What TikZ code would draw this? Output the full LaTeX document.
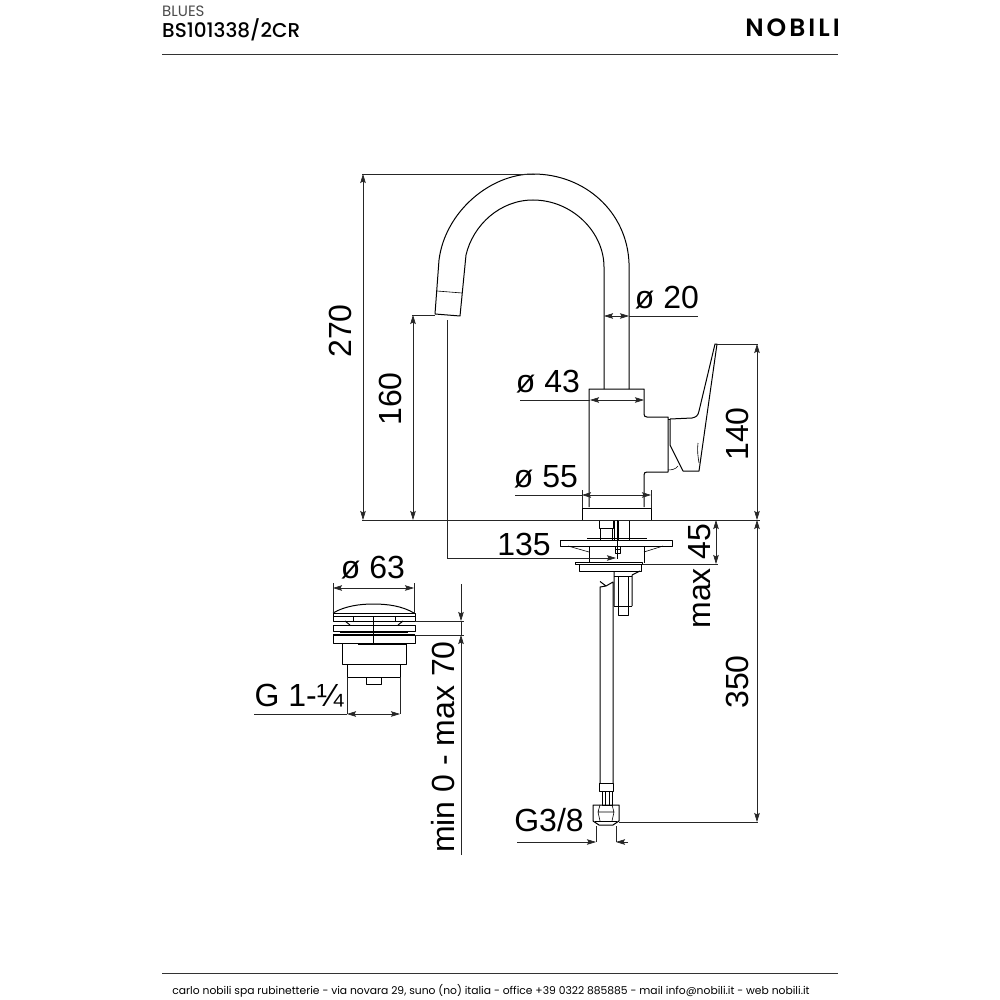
\documentclass[tikz,border=0pt]{standalone}
\usepackage{fontspec}
\setmainfont{Liberation Sans}
\newfontfamily\headfont{Poppins}
\newfontfamily\codefont{Poppins Medium}
\newfontfamily\brandfont[LetterSpace=12]{Poppins SemiBold}
\usetikzlibrary{arrows.meta}
\begin{document}
\begin{tikzpicture}[x=1pt,y=-1pt,line join=round,
            part/.style = {draw=black,line width=1pt},
            thin part/.style = {draw=black,line width=0.6pt},
            rule/.style = {draw=black!80,line width=0.8pt},
            dim/.style = {draw=black!85,line width=0.6pt},
            tip/.style = {-{Stealth[length=9pt,width=5.5pt,inset=1.5pt]}},
            both tips/.style = {{Stealth[length=9pt,width=5.5pt,inset=1.5pt]}-{Stealth[length=9pt,width=5.5pt,inset=1.5pt]}},
            size/.style = {font=\fontsize{32}{32}\selectfont,inner sep=0pt},
            upsize/.style = {size,rotate=90}]
        
        \useasboundingbox (0,0) rectangle (1000,1000);
        \fill[white] (0,0) rectangle (1000,1000);
        
        % Header
        \node[anchor=west,inner sep=0pt,text=black!70,font=\headfont\fontsize{15}{15}\selectfont] (series) at (162,11) {BLUES};
        \node[anchor=west,inner sep=0pt,font=\codefont\fontsize{20}{21}\selectfont] (code) at (162,29.5) {BS101338/2CR};
        \node[anchor=east,inner sep=0pt,font=\brandfont\fontsize{25}{25}\selectfont] (brand) at (840,28) {NOBILI};
        \draw[rule] (162,54) -- (838,54);
        
        % Footer
        \draw[rule] (162,973) -- (838,973);
        \node[inner sep=0pt,font=\headfont\fontsize{10.75}{11}\selectfont] (address) at (491,991) {carlo nobili spa rubinetterie - via novara 29, suno (no) italia - office +39 0322 885885 - mail info@nobili.it - web nobili.it};
        
        % Spout
        \draw[part] (629,389) -- (629,263) .. controls (627,212) and (585,174) .. (533,174)
            .. controls (490,174) and (445,212) .. (439,260) -- (435,314) -- (460,316) -- (466,255)
            .. controls (473,225) and (500,200) .. (533,200)
            .. controls (572,200) and (604,232) .. (604,267) -- (604,389);
        \draw[thin part] (437,291) -- (462,293);
        
        % Body
        \draw[part] (589,507) -- (589,389) -- (644,389) -- (644,414) .. controls (644,416) and (645,417) .. (647,417) -- (668,417)
            -- (668,472) -- (647,472) .. controls (645,472) and (644,473) .. (644,475) -- (644,507);
        \draw[part] (582,508) rectangle (651,520);
        
        % Handle
        \draw[part] (670,419) -- (692,418) .. controls (696,417) and (698,416) .. (699,411) -- (715,344) -- (717,344)
            -- (699,471) -- (683,471) -- (670,445) -- (670,419);
        \draw[thin part] (668,419) -- (670,419);
        \draw[thin part] (668,470) .. controls (672,470) and (676,469) .. (678,466);
        \draw[thin part] (698,443) .. controls (697,450) and (698,457) .. (699,463);
        
        % Under the deck
        \draw[thin part] (599,520) -- (599,528) -- (613,528) -- (613,520);
        \draw[thin part] (600,528) -- (600,540) (612,528) -- (612,540);
        \draw[thin part] (614,520) -- (614,540) (618,520) -- (618,540) (629,520) -- (629,540);
        \draw[thin part] (587,538) -- (647,538);
        \draw[part] (560,540) rectangle (672,546);
        \draw[part] (589,546) -- (589,563) (644,546) -- (644,563);
        \draw[thin part] (568,546) -- (589,552) (644,552) -- (663,546);
        \draw[thin part] (615,546) rectangle (620,553) (615,549.5) -- (620,549.5);
        \draw[part] (575,562) -- (642,562) -- (642,564) -- (575,564) -- cycle;
        \draw[part] (579,564) -- (579,571) -- (641,571) -- (641,564);
        \draw[part] (614,571) -- (614,606) (632,575) -- (632,606) (632,575) -- (640,571);
        \draw[thin part] (618,576) -- (618,606) (628,576) -- (628,606) (614,576) -- (632,576);
        \draw[part] (614,606) -- (632,606);
        \draw[part] (618,606) -- (618,615) -- (628,615) -- (628,606);
        
        % Hose
        \draw[part] (600,783) -- (600,587) -- (606,586) -- (600,581.5) (613,783) -- (613,582) -- (606,586);
        \draw[part] (599,783) rectangle (613,791);
        \draw[thin part] (602,791) rectangle (612,805) (605,791) -- (605,805) (609,791) -- (609,805);
        \draw[part] (593,805) -- (619,805) -- (619,821) -- (613,825) -- (599,825) -- (593,821) -- cycle;
        \draw[thin part] (600,805) -- (598,812) -- (600,821) (612,805) -- (614,812) -- (612,821) (598,812) -- (614,812);
        \draw[part] (595,821) -- (617,821);
        
        % Waste
        \draw[part] (333,613) .. controls (345,606) and (360,604) .. (373,604) .. controls (388,604) and (402,606) .. (414,613);
        \draw[part] (333,613) -- (333,621) -- (415,621) -- (415,613) -- cycle;
        \draw[thin part] (333,616) -- (415,616) (353,616) -- (353,621) (395,616) -- (395,621);
        \draw[part] (345,621) -- (350,625) (403,621) -- (398,625);
        \draw[part] (333,625) rectangle (415,631);
        \draw[line width=1.8pt] (340,632) -- (408,632);
        \draw[part] (333,635) rectangle (415,643);
        \draw[line width=1.5pt] (333,635) -- (415,635);
        \draw[part] (342,643) -- (342,664) -- (406,664) -- (406,643);
        \draw[part] (347,664) -- (347,677) -- (400,677) -- (400,664);
        \draw[part] (366,677) -- (366,684) -- (381,684) -- (381,677);
        \draw[thin part] (373,616) -- (373,643);
        \draw[line width=1.2pt] (358,644) -- (406,644);
        
        % Overall height
        \draw[dim] (362,174) -- (535,174);
        \draw[dim] (362,520) -- (760,520);
        \draw[dim,both tips] (363,174) -- (363,520);
        \node[upsize] (height) at (340,331) {270};
        
        % Outlet height
        \draw[dim] (412,315) -- (435,315);
        \draw[dim,both tips] (413,315) -- (413,520);
        \node[upsize] (outlet) at (390,399) {160};
        
        % Reach
        \draw[dim] (447,320) -- (447,558);
        \draw[dim,tip] (447,558) -- (616,558);
        \draw[thin part] (617,520) -- (617,559);
        \node[size] (reach) at (524,544) {135};
        
        % Diameters
        \draw[dim] (629,316) -- (698,316);
        \draw[dim,both tips] (604,316) -- (629,316);
        \node[size] (pipe) at (667,298) {ø 20};
        
        \draw[dim] (520,400) -- (590,400);
        \draw[dim,both tips] (590,400) -- (644,400);
        \node[size] (neck) at (548,382) {ø 43};
        
        \draw[dim] (515,495) -- (582,495);
        \draw[dim] (582,490) -- (582,508) (651,490) -- (651,508);
        \draw[dim,both tips] (582,495) -- (651,495);
        \node[size] (foot) at (546,477) {ø 55};
        
        % Handle height
        \draw[dim] (717,344) -- (758,344);
        \draw[dim,both tips] (757,344) -- (757,520);
        \node[upsize] (lever) at (737,434) {140};
        
        % Deck thickness
        \draw[dim] (643,564) -- (718,564);
        \draw[dim,both tips] (716,520) -- (716,564);
        \node[upsize] (deck) at (700,576) {max 45};
        
        % Hose length
        \draw[dim] (619,822) -- (758,822);
        \draw[dim,both tips] (757,520) -- (757,822);
        \node[upsize] (hose) at (737,682) {350};
        
        % Hose thread
        \draw[dim] (596,826) -- (596,842) (616,826) -- (616,842);
        \draw[dim,tip] (517,842) -- (596,842);
        \draw[dim,tip] (628,842) -- (616,842);
        \node[size] (thread) at (549,820) {G3/8};
        
        % Waste sizes
        \draw[dim] (333,583) -- (333,613) (414,583) -- (414,613);
        \draw[dim,both tips] (333,588) -- (414,588);
        \node[size] (waste) at (373,568) {ø 63};
        
        \draw[dim] (347,677) -- (347,714) (400,677) -- (400,714);
        \draw[dim] (254,714) -- (347,714);
        \draw[dim,both tips] (347,714) -- (400,714);
        \node[size] (wthread) at (299,696) {G 1-¼};
        
        % Waste range
        \draw[dim] (415,621) -- (464,621) (415,635) -- (464,635);
        \draw[dim,tip] (461,584) -- (461,621);
        \draw[dim,tip] (461,855) -- (461,635);
        \draw[dim] (461,621) -- (461,635);
        \node[upsize] (range) at (443,747) {min 0 - max 70};
        
        \end{tikzpicture}
\end{document}
